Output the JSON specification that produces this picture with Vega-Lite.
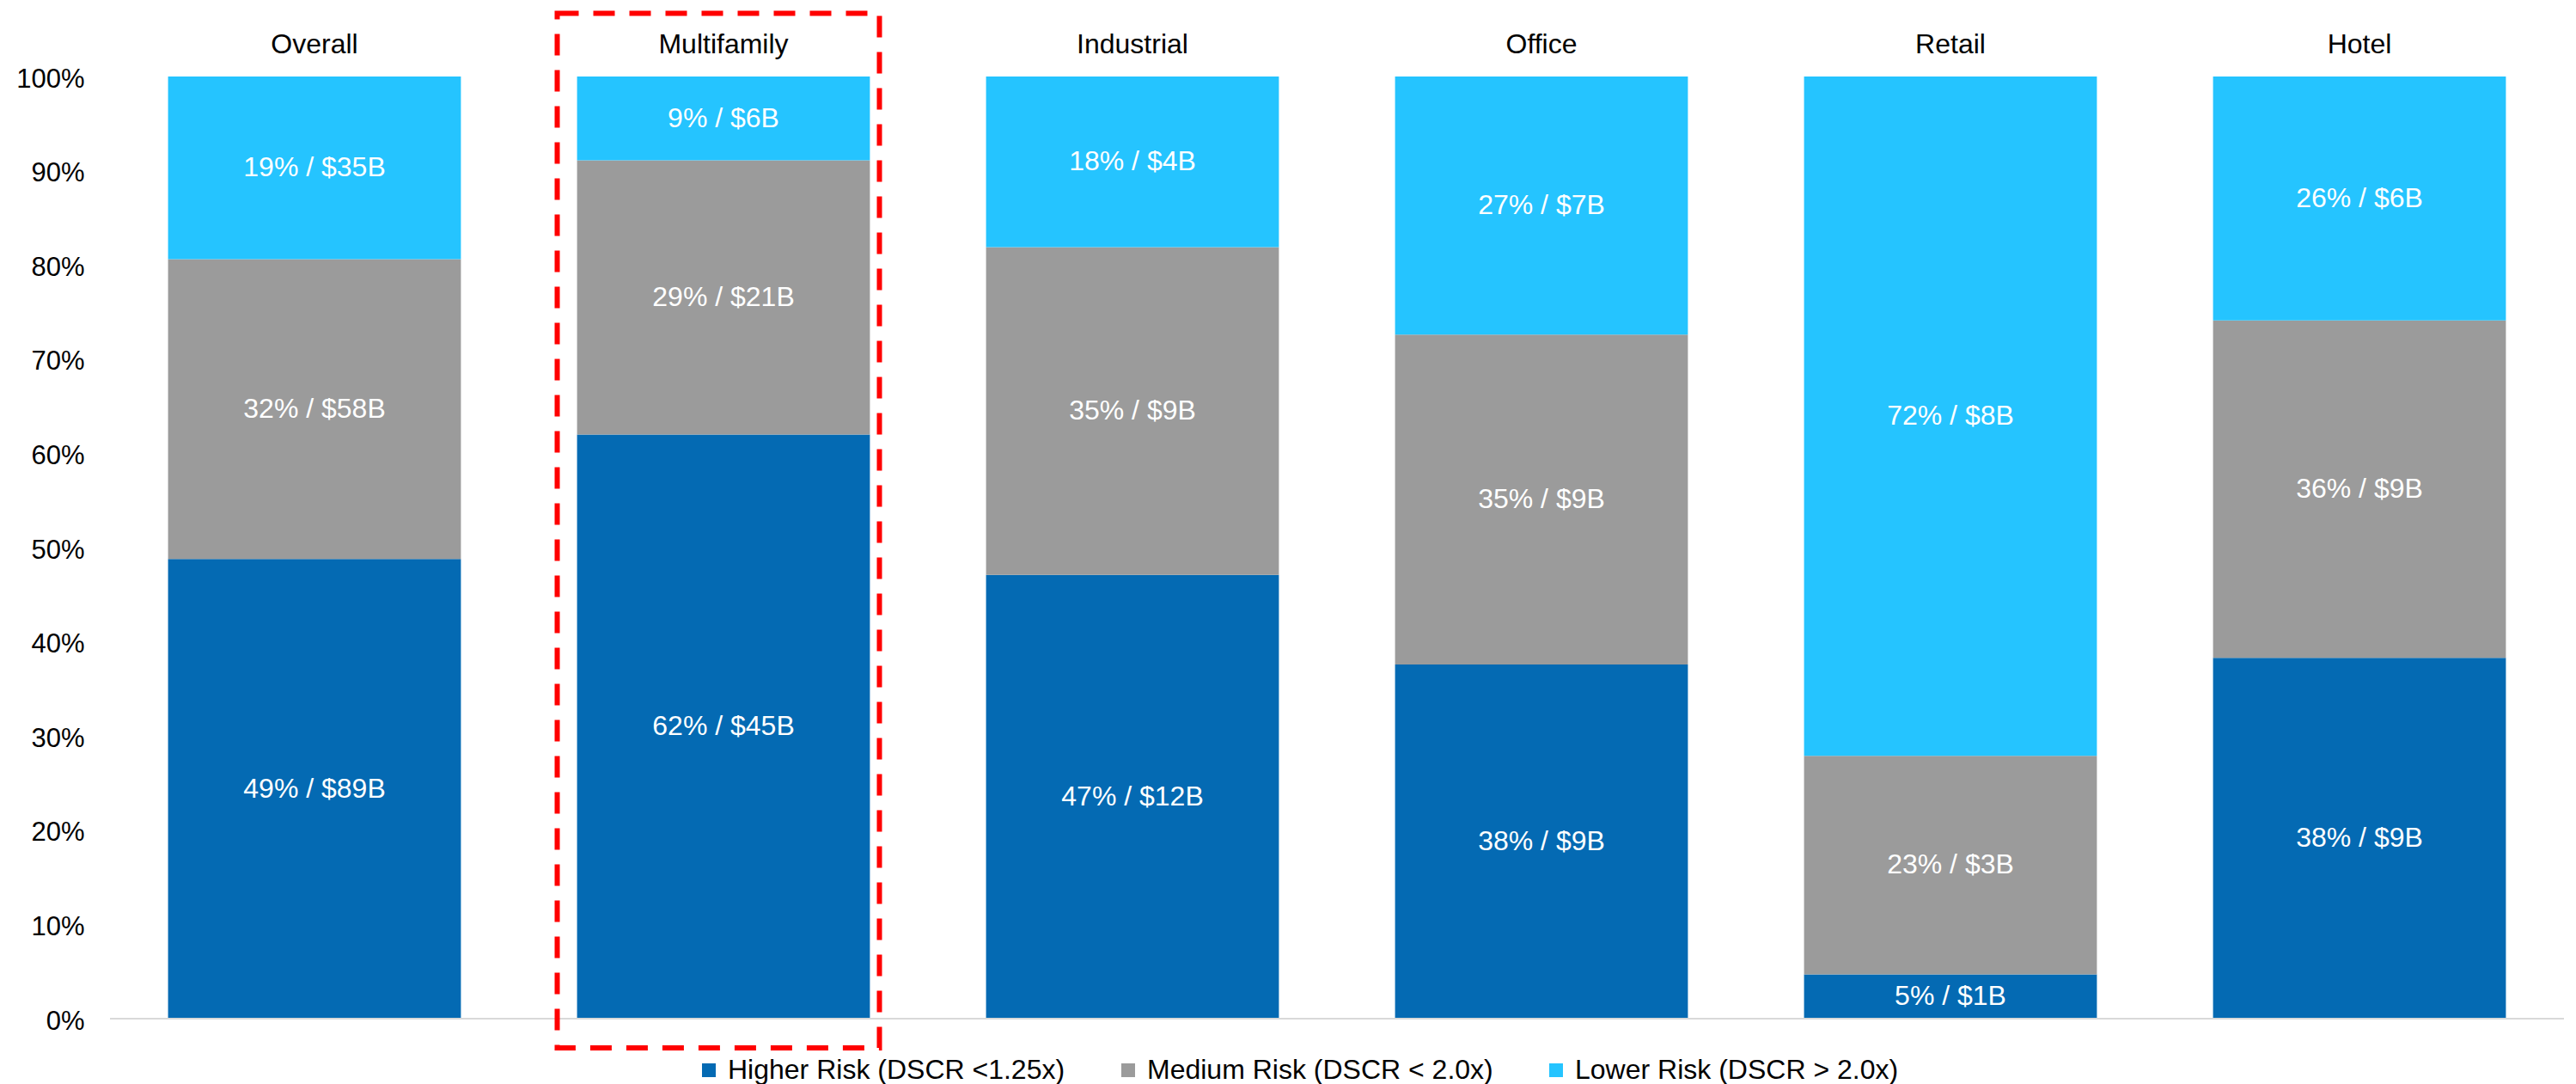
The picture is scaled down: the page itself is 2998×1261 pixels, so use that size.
{
  "$schema": "https://vega.github.io/schema/vega-lite/v6.json",
  "width": 2856,
  "height": 1096,
  "autosize": {"type": "none"},
  "padding": {"left": 128, "top": 89, "right": 14, "bottom": 76},
  "background": "white",
  "config": {"view": {"stroke": null}, "font": "Liberation Sans"},
  "datasets": {
    "main": [
      {"cat": "Overall", "risk": "Higher Risk (DSCR <1.25x)", "rank": 1, "value": 0.488, "label": "49% / $89B"},
      {"cat": "Overall", "risk": "Medium Risk (DSCR < 2.0x)", "rank": 2, "value": 0.318, "label": "32% / $58B"},
      {"cat": "Overall", "risk": "Lower Risk (DSCR > 2.0x)", "rank": 3, "value": 0.194, "label": "19% / $35B"},
      {"cat": "Multifamily", "risk": "Higher Risk (DSCR <1.25x)", "rank": 1, "value": 0.620, "label": "62% / $45B"},
      {"cat": "Multifamily", "risk": "Medium Risk (DSCR < 2.0x)", "rank": 2, "value": 0.291, "label": "29% / $21B"},
      {"cat": "Multifamily", "risk": "Lower Risk (DSCR > 2.0x)", "rank": 3, "value": 0.089, "label": "9% / $6B"},
      {"cat": "Industrial", "risk": "Higher Risk (DSCR <1.25x)", "rank": 1, "value": 0.471, "label": "47% / $12B"},
      {"cat": "Industrial", "risk": "Medium Risk (DSCR < 2.0x)", "rank": 2, "value": 0.348, "label": "35% / $9B"},
      {"cat": "Industrial", "risk": "Lower Risk (DSCR > 2.0x)", "rank": 3, "value": 0.181, "label": "18% / $4B"},
      {"cat": "Office", "risk": "Higher Risk (DSCR <1.25x)", "rank": 1, "value": 0.376, "label": "38% / $9B"},
      {"cat": "Office", "risk": "Medium Risk (DSCR < 2.0x)", "rank": 2, "value": 0.350, "label": "35% / $9B"},
      {"cat": "Office", "risk": "Lower Risk (DSCR > 2.0x)", "rank": 3, "value": 0.274, "label": "27% / $7B"},
      {"cat": "Retail", "risk": "Higher Risk (DSCR <1.25x)", "rank": 1, "value": 0.047, "label": "5% / $1B"},
      {"cat": "Retail", "risk": "Medium Risk (DSCR < 2.0x)", "rank": 2, "value": 0.232, "label": "23% / $3B"},
      {"cat": "Retail", "risk": "Lower Risk (DSCR > 2.0x)", "rank": 3, "value": 0.721, "label": "72% / $8B"},
      {"cat": "Hotel", "risk": "Higher Risk (DSCR <1.25x)", "rank": 1, "value": 0.383, "label": "38% / $9B"},
      {"cat": "Hotel", "risk": "Medium Risk (DSCR < 2.0x)", "rank": 2, "value": 0.358, "label": "36% / $9B"},
      {"cat": "Hotel", "risk": "Lower Risk (DSCR > 2.0x)", "rank": 3, "value": 0.259, "label": "26% / $6B"}
    ]
  },
  "layer": [
    {
      "data": {"name": "main"},
      "transform": [
        {"stack": "value", "groupby": ["cat"], "sort": [{"field": "rank", "order": "ascending"}], "as": ["y0", "y1"]}
      ],
      "mark": {"type": "bar"},
      "encoding": {
        "x": {
          "field": "cat", "type": "nominal",
          "sort": ["Overall", "Multifamily", "Industrial", "Office", "Retail", "Hotel"],
          "scale": {"paddingInner": 0.284, "paddingOuter": 0.142},
          "axis": {"orient": "top", "title": null, "domain": false, "ticks": false, "labelAngle": 0, "labelFontSize": 32, "labelColor": "#000000", "labelPadding": 21}
        },
        "y": {
          "field": "y0", "type": "quantitative",
          "scale": {"domain": [0, 1], "nice": false},
          "axis": {"title": null, "format": ".0%", "values": [0, 0.1, 0.2, 0.3, 0.4, 0.5, 0.6, 0.7, 0.8, 0.9, 1], "grid": false, "domain": false, "ticks": false, "tickSize": 0, "labelFontSize": 31, "labelColor": "#000000", "labelPadding": 30, "labelOffset": 3}
        },
        "y2": {"field": "y1"},
        "color": {
          "field": "risk", "type": "nominal",
          "scale": {"domain": ["Higher Risk (DSCR <1.25x)", "Medium Risk (DSCR < 2.0x)", "Lower Risk (DSCR > 2.0x)"], "range": ["#046AB3", "#9B9B9B", "#25C4FF"]},
          "legend": {"orient": "none", "legendX": 681, "legendY": 1140, "direction": "horizontal", "title": null, "labelFontSize": 32, "labelColor": "#000000", "symbolType": "square", "symbolSize": 256, "symbolStrokeWidth": 0, "labelOffset": 6, "columnPadding": 57, "labelLimit": 0}
        }
      }
    },
    {
      "data": {"values": [{}]},
      "mark": {"type": "rule", "color": "#d9d9d9", "strokeWidth": 2},
      "encoding": {"y": {"datum": 0}}
    },
    {
      "data": {"name": "main"},
      "transform": [
        {"stack": "value", "groupby": ["cat"], "sort": [{"field": "rank", "order": "ascending"}], "as": ["y0", "y1"]},
        {"calculate": "(datum.y0 + datum.y1) / 2", "as": "ymid"}
      ],
      "mark": {"type": "text", "color": "#ffffff", "fontSize": 32, "baseline": "middle", "align": "center"},
      "encoding": {
        "x": {"field": "cat", "type": "nominal", "sort": ["Overall", "Multifamily", "Industrial", "Office", "Retail", "Hotel"]},
        "y": {"field": "ymid", "type": "quantitative", "axis": {"title": null}},
        "text": {"field": "label"}
      }
    },
    {
      "data": {"values": [{}]},
      "mark": {"type": "bar", "filled": false, "color": "#ff0000", "strokeWidth": 6, "strokeDash": [25, 17], "width": 375, "xOffset": -6},
      "encoding": {
        "x": {"datum": "Multifamily"},
        "y": {"datum": 1.067},
        "y2": {"datum": -0.031}
      }
    }
  ]
}
